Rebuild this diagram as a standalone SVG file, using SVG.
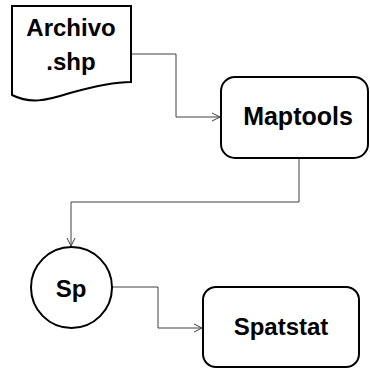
<svg xmlns="http://www.w3.org/2000/svg" width="370" height="369" viewBox="0 0 370 369">
<style>
.node{fill:#fff;stroke:#000;stroke-width:2}
.lbl{font-family:"Liberation Sans",Arial,sans-serif;font-weight:bold;font-size:24px;fill:#000;text-anchor:middle}
.edge{fill:none;stroke:#404040;stroke-width:1}
</style>
<defs>
<marker id="arr" markerWidth="10" markerHeight="10" refX="9" refY="5" orient="auto" markerUnits="userSpaceOnUse">
<path d="M1,1 L9,5 L1,9" fill="none" stroke="#404040" stroke-width="1"/>
</marker>
</defs>
<rect width="370" height="369" fill="#fff"/>
<g id="connectors">
<path class="edge" d="M131,54 H176 V117 H220" marker-end="url(#arr)"/>
<path class="edge" d="M299,158 V202 H71 V246" marker-end="url(#arr)"/>
<path class="edge" d="M112,287 H158 V328 H202" marker-end="url(#arr)"/>
</g>
<g id="archivo">
<path class="node" d="M12,6 H131 V82 C115,82 95,86 70,93 C45,101 30,104 12,95 Z"/>
<text class="lbl" x="71" y="36">Archivo</text>
<text class="lbl" x="71" y="70">.shp</text>
</g>
<g id="maptools">
<rect class="node" x="221" y="77" width="147" height="81" rx="14"/>
<text class="lbl" x="298" y="125" style="font-size:25px">Maptools</text>
</g>
<g id="sp">
<circle class="node" cx="71.5" cy="287.5" r="40.5"/>
<text class="lbl" x="71" y="297">Sp</text>
</g>
<g id="spatstat">
<rect class="node" x="203" y="287" width="156" height="80" rx="13"/>
<text class="lbl" x="281" y="335">Spatstat</text>
</g>
</svg>
